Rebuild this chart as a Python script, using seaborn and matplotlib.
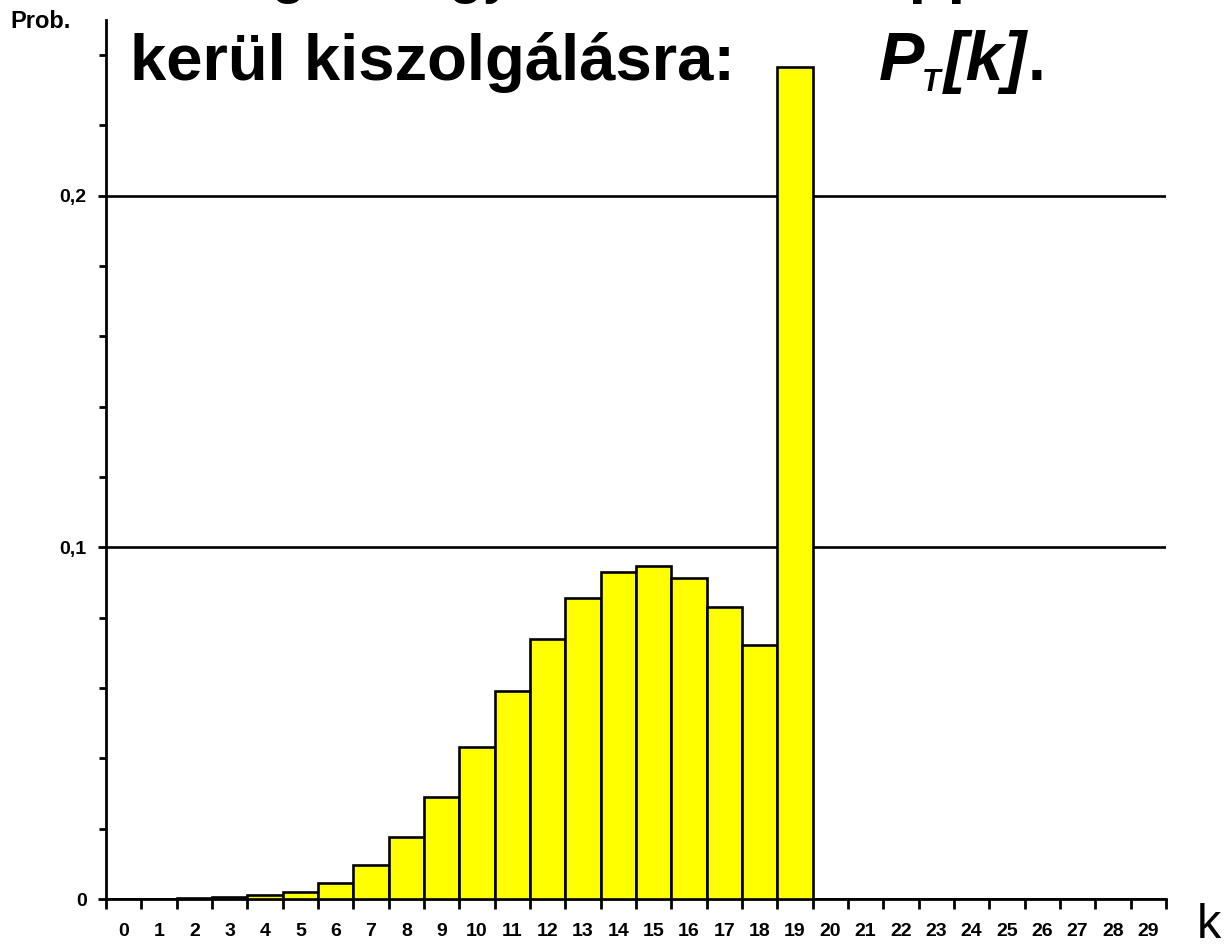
import matplotlib
matplotlib.use("Agg")
import matplotlib.pyplot as plt
import seaborn as sns
from matplotlib.ticker import MultipleLocator, FixedLocator

# P_T[k] értékek
k_values = list(range(30))
prob = [0.0, 0.0, 0.0003, 0.0005, 0.001, 0.002, 0.0046, 0.0097, 0.0177, 0.0291,
        0.0433, 0.0592, 0.074, 0.0856, 0.093, 0.0947, 0.0913, 0.083, 0.0723, 0.2366,
        0, 0, 0, 0, 0, 0, 0, 0, 0, 0]
y_ticks = [0, 0.1, 0.2]
y_tick_labels = ["0", "0,1", "0,2"]

sns.set_style("ticks")
plt.rcParams['font.family'] = ['Liberation Sans', 'DejaVu Sans']
plt.rcParams['text.color'] = 'black'
plt.rcParams['xtick.color'] = 'black'
plt.rcParams['ytick.color'] = 'black'
plt.rcParams['axes.labelcolor'] = 'black'

fig = plt.figure(figsize=(12.25, 9.44), dpi=100)
ax = fig.add_axes([106 / 1225, 1 - 899 / 944, 1060 / 1225, 879 / 944])

sns.barplot(x=k_values, y=prob, color="#FFFF00", saturation=1, width=1,
            edgecolor="black", linewidth=1.9, ax=ax, zorder=3)

ax.set_xlim(-0.5, 29.5)
ax.set_ylim(0, 0.25)

# y tengely
ax.set_yticks(y_ticks)
ax.set_yticklabels(y_tick_labels, fontsize=14, fontweight="bold")
ax.yaxis.set_minor_locator(MultipleLocator(0.02))
ax.tick_params(axis="y", which="major", length=6, width=2, pad=8)
ax.tick_params(axis="y", which="minor", length=5, width=2)
ax.grid(axis="y", which="major", color="black", linewidth=1.9, zorder=1)
ax.set_axisbelow(True)

# x tengely: címkék középen, vonások a határokon
ax.set_xticks(k_values)
ax.set_xticklabels([str(k) for k in k_values], fontsize=14, fontweight="bold")
ax.xaxis.set_minor_locator(FixedLocator([k - 0.5 for k in range(31)]))
ax.tick_params(axis="x", which="major", length=0, pad=17)
ax.tick_params(axis="x", which="minor", length=7, width=2)

for side in ["top", "right"]:
    ax.spines[side].set_visible(False)
for side in ["left", "bottom"]:
    ax.spines[side].set_linewidth(2)
    ax.spines[side].set_color("black")
ax.set_xlabel("")
ax.set_ylabel("")

# feliratok
fig.text(10 / 1225, 1 - 21 / 944, "Prob.", fontsize=17, fontweight="bold", va="center")
fig.text(1197 / 1225, 1 - 938 / 944, "k", fontsize=35, va="baseline")

# a cím első sora nagyrészt kilóg a képből, csak az alsó szárak látszanak
fig.text(-72 / 1225, 1 + 9 / 944, "Valószínűsége, hogy a T idő alatt",
         fontsize=46, va="baseline")
fig.text(874 / 1225, 1 + 9 / 944, "éppen", fontsize=46, fontweight="bold",
         va="baseline")

fig.text(130 / 1225, 1 - 80 / 944, "kerül kiszolgálásra:", fontsize=47,
         fontweight="bold", va="baseline")
fig.text(879 / 1225, 1 - 80 / 944, "P", fontsize=49, fontweight="bold",
         style="italic", va="baseline")
fig.text(922 / 1225, 1 - 91 / 944, "T", fontsize=22, fontweight="bold",
         style="italic", va="baseline")
fig.text(944 / 1225, 1 - 80 / 944, "[k]", fontsize=49, fontweight="bold",
         style="italic", va="baseline")
fig.text(1028 / 1225, 1 - 80 / 944, ".", fontsize=46, fontweight="bold",
         va="baseline")

fig.savefig("out.png", dpi=100)
